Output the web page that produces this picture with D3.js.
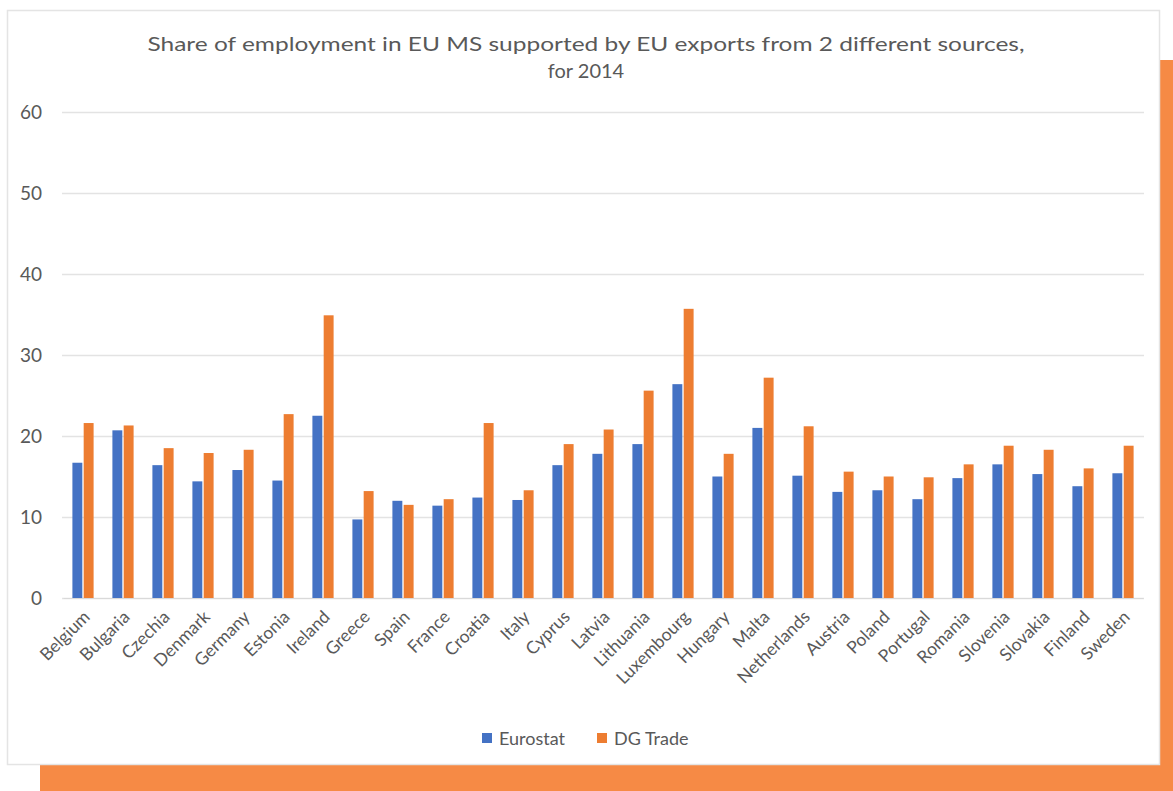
<!DOCTYPE html>
<html>
<head>
<meta charset="utf-8">
<script src="https://cdn.jsdelivr.net/npm/d3@7"></script>
<style>
  html, body { margin: 0; padding: 0; background: #ffffff; }
  svg { display: block; }
  text { font-family: Lato, "Open Sans", sans-serif; fill: #595959; }
</style>
</head>
<body>
<svg id="chart" width="1173" height="791"></svg>
<script>
const countries = ["Belgium","Bulgaria","Czechia","Denmark","Germany","Estonia","Ireland","Greece","Spain","France","Croatia","Italy","Cyprus","Latvia","Lithuania","Luxembourg","Hungary","Malta","Netherlands","Austria","Poland","Portugal","Romania","Slovenia","Slovakia","Finland","Sweden"];
const eurostat = [16.7,20.7,16.4,14.4,15.8,14.5,22.5,9.7,12.0,11.4,12.4,12.1,16.4,17.8,19.0,26.4,15.0,21.0,15.1,13.1,13.3,12.2,14.8,16.5,15.3,13.8,15.4];
const dgTrade  = [21.6,21.3,18.5,17.9,18.3,22.7,34.9,13.2,11.5,12.2,21.6,13.3,19.0,20.8,25.6,35.7,17.8,27.2,21.2,15.6,15.0,14.9,16.5,18.8,18.3,16.0,18.8];
const seriesNames = ["Eurostat","DG Trade"];
const seriesColors = ["#4472C4","#ED7D31"];
const yTicks = [0,10,20,30,40,50,60];
const titleLines = ["Share of employment in EU MS supported by EU exports from 2 different sources,","for 2014"];

const svg = d3.select("#chart");

// Orange backing panel and white card
svg.append("rect").attr("x", 40).attr("y", 60).attr("width", 1133).attr("height", 731).attr("fill", "#F68A45");
svg.append("rect").attr("x", 7.5).attr("y", 10.5).attr("width", 1152).attr("height", 754)
  .attr("fill", "#ffffff").attr("stroke", "#E4E4E4").attr("stroke-width", 1.5);

const margin = { left: 63, right: 1143, top: 112, bottom: 598 };

const x0 = d3.scaleBand().domain(countries).range([margin.left, margin.right]).paddingInner(0.47).paddingOuter(0.235);
const x1 = d3.scaleBand().domain(seriesNames).range([0, x0.bandwidth()]).paddingInner(0.12);
const y = d3.scaleLinear().domain([0, 60]).range([margin.bottom, margin.top]);

// Gridlines and y labels
const yAxis = d3.axisLeft(y).tickValues(yTicks).tickSize(-(margin.right - margin.left + 2)).tickPadding(20);
const gy = svg.append("g").attr("transform", `translate(${margin.left - 1},0)`).call(yAxis);
gy.select(".domain").remove();
gy.selectAll(".tick line").attr("stroke", "#E3E3E3").attr("stroke-width", 1.3);
gy.selectAll(".tick text").attr("font-size", 19).style("fill", "#595959").style("font-family", "Lato, sans-serif");

// Bars
const data = countries.map((c, i) => ({ c, vals: [eurostat[i], dgTrade[i]] }));
const groups = svg.append("g").selectAll("g").data(data).join("g")
  .attr("transform", d => `translate(${x0(d.c)},0)`);
groups.selectAll("rect").data(d => d.vals.map((v, j) => ({ v, s: seriesNames[j], j })))
  .join("rect")
  .attr("x", d => x1(d.s))
  .attr("y", d => y(d.v))
  .attr("width", x1.bandwidth())
  .attr("height", d => y(0) - y(d.v))
  .attr("fill", d => seriesColors[d.j]);

// Category axis
const xAxis = d3.axisBottom(x0).tickSize(0).tickPadding(0);
const gx = svg.append("g").attr("transform", `translate(0,${margin.bottom})`).call(xAxis);
gx.select(".domain").attr("stroke", "#D9D9D9");
gx.selectAll(".tick text")
  .attr("font-size", 17.5)
  .style("fill", "#595959")
  .style("font-family", "Lato, sans-serif")
  .attr("text-anchor", "end")
  .attr("y", 0)
  .attr("dy", 0)
  .attr("transform", "translate(8,20) rotate(-45)");

// Title
svg.append("g").selectAll("text").data(titleLines).join("text")
  .attr("x", 586).attr("y", (d, i) => 51 + i * 27)
  .attr("text-anchor", "middle")
  .attr("font-size", 20)
  .attr("textLength", (d, i) => i === 0 ? 877 : null)
  .attr("lengthAdjust", "spacingAndGlyphs")
  .text(d => d);

// Legend
const legend = svg.append("g").attr("transform", "translate(482,745)");
const items = legend.selectAll("g").data(seriesNames).join("g")
  .attr("transform", (d, i) => `translate(${i * 115},0)`);
items.append("rect").attr("x", 0).attr("y", -12).attr("width", 10).attr("height", 10)
  .attr("fill", (d, i) => seriesColors[i]);
items.append("text").attr("x", 17).attr("y", 0).attr("font-size", 18).text(d => d);
</script>
</body>
</html>
